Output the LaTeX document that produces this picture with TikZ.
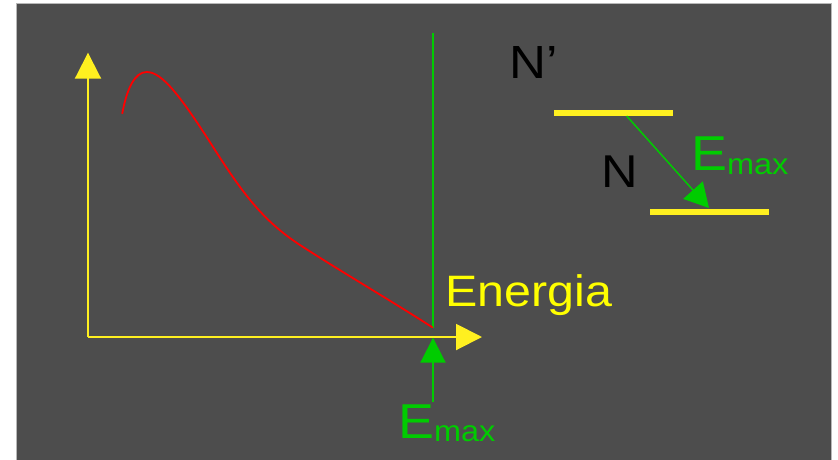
\documentclass[tikz,border=0pt]{standalone}
\usepackage{fontspec}
\setmainfont{Liberation Sans}
\usetikzlibrary{arrows.meta}
\definecolor{bg}{HTML}{4D4D4D}
\definecolor{framec}{HTML}{B8B8B8}
\definecolor{ylwline}{HTML}{FFF020}
\definecolor{ylwtext}{HTML}{FFFF00}
\definecolor{grn}{HTML}{00CC00}
\definecolor{redc}{HTML}{FF0000}
\tikzset{
  axisarrow/.style={draw=ylwline, line width=2pt, -{Triangle[width=26pt,length=26pt]}},
  levelbar/.style={draw=ylwline, line width=6pt},
  emaxline/.style={draw=grn, line width=2pt},
  txt/.style={inner sep=0pt, outer sep=0pt, anchor=base west},
}
\newcommand{\emaxlabel}[1]{\scalebox{1.1}[1]{\fontsize{49}{49}\selectfont E\raisebox{-#1}{\fontsize{29.5}{29.5}\selectfont max}}}
\begin{document}
\begin{tikzpicture}[x=1pt,y=-1pt]
\useasboundingbox (0,0) rectangle (838,459);
\fill[white] (0,0) rectangle (838,459);
\draw[fill=bg, draw=framec, line width=0.8pt] (16.5,3.5) rectangle (831,470);
% coordinates
\coordinate (O) at (88,337);
\coordinate (Ytip) at (88,52.7);
\coordinate (Xtip) at (482,337);
\coordinate (Etop) at (433,32.7);
\coordinate (Ebot) at (433,328);
\coordinate (Aup) at (433,337.7);
\coordinate (Alow) at (433,402);
\coordinate (L1a) at (554.3,113);
\coordinate (L1b) at (673.3,113);
\coordinate (L2a) at (650,212);
\coordinate (L2b) at (769,212);
\coordinate (Ds) at (626.7,116);
\coordinate (Dt) at (709,208);
% green Emax line
\draw[emaxline] (Etop) -- (Ebot);
% curve
\draw[redc, line width=1.8pt, line cap=round]
  (122.3,113.3) .. controls (127,88) and (135,72) .. (146.7,72)
  .. controls (162,72) and (180,95) .. (215,150)
  .. controls (245,197) and (265,222) .. (300,245)
  .. controls (340,271) and (390,300) .. (432.3,327.3);
% axes
\draw[axisarrow] (O) -- (Ytip);
\draw[axisarrow] (O) -- (Xtip);
% Emax arrow
\draw[emaxline, -{Triangle[width=25pt,length=25pt]}] (Alow) -- (Aup);
% levels
\draw[levelbar] (L1a) -- (L1b);
\draw[levelbar] (L2a) -- (L2b);
\draw[draw=grn, line width=1.5pt, -{Triangle[width=26pt,length=24pt]}] (Ds) -- (Dt);
% texts
\node[txt, text=ylwtext] (energia) at (445.2,306.7) {\scalebox{1.1}[1]{\fontsize{44}{44}\selectfont Energia}};
\node[txt, text=black] (nprime) at (509.5,78.3) {\scalebox{1.1}[1]{\fontsize{46.5}{46.5}\selectfont N’}};
\node[txt, text=black] (nlab) at (601.2,187) {\scalebox{1.1}[1]{\fontsize{46}{46}\selectfont N}};
\node[txt, text=grn] (emaxbot) at (398.1,438.3) {\emaxlabel{3.4pt}};
\node[txt, text=grn] (emaxright) at (691.1,170) {\emaxlabel{4pt}};
\end{tikzpicture}
\end{document}
